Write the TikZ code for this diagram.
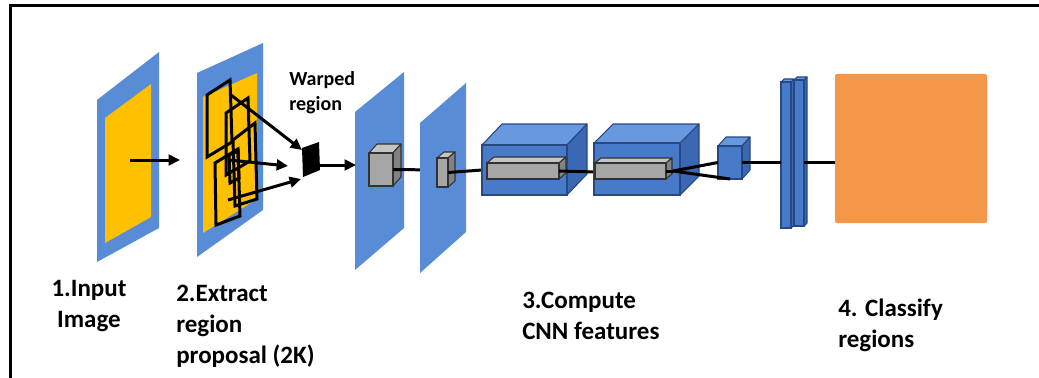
\documentclass[tikz,border=0pt]{standalone}
\usepackage{fontspec}
\setmainfont{Carlito}
\usetikzlibrary{arrows.meta}

% colour sets
\definecolor{panelblue}{RGB}{88,140,214}
\definecolor{imgyellow}{RGB}{255,192,0}
\definecolor{clsorange}{RGB}{245,151,72}
\definecolor{bluefront}{RGB}{72,122,202}
\definecolor{bluetop}{RGB}{104,152,222}
\definecolor{blueside}{RGB}{58,104,180}
\definecolor{blueedge}{RGB}{40,72,130}
\definecolor{greyfront}{RGB}{166,166,166}
\definecolor{greytop}{RGB}{196,196,196}
\definecolor{greyside}{RGB}{130,130,130}
\definecolor{greyedge}{RGB}{50,50,50}

% cuboid: #1 name, #2 x, #3 y (front top-left), #4 width, #5 height,
% #6 depth right, #7 depth up, #8 colour set
\newcommand\drawcuboid[8]{%
  \filldraw[draw=#8edge, line width=0.8pt, line join=round, fill=#8top]
    (#2,#3) -- ++(#6,-#7) -- ++(#4,0) -- ++(-#6,#7) -- cycle;
  \filldraw[draw=#8edge, line width=0.8pt, line join=round, fill=#8side]
    (#2+#4,#3) -- ++(#6,-#7) -- ++(0,#5) -- ++(-#6,#7) -- cycle;
  \filldraw[draw=#8edge, line width=0.8pt, fill=#8front]
    (#2,#3) rectangle ++(#4,#5);
  \coordinate (#1-w) at (#2,#3+#5/2);
  \coordinate (#1-e) at (#2+#4,#3+#5/2);
  \coordinate (#1-s) at (#2+#4/2,#3+#5);
}

\tikzset{
  link/.style={line width=2.25pt, black},
  arr/.style={line width=2.25pt, black, -{Triangle[length=8.5pt,width=8pt]}},
  propbox/.style={line width=2.25pt, black},
  lbl/.style={font=\bfseries\fontsize{18.75}{23.25}\selectfont, inner sep=0pt, align=left, anchor=north west},
  smalllbl/.style={font=\bfseries\fontsize{15}{18.75}\selectfont, inner sep=0pt, align=left, anchor=north west},
}

\begin{document}
\begin{tikzpicture}[x=0.75pt,y=-0.75pt]
\useasboundingbox (0,0) rectangle (1039,378);
\fill[white] (0,0) rectangle (1039,378);

% frame
\draw[line width=2.25pt] (10,378) -- (10,6) -- (1039,6);

% 1. input image
\fill[panelblue] (97,100) -- (159,52) -- (159,228) -- (97,262) -- cycle;
\fill[imgyellow] (105,118) -- (151,84) -- (151,217) -- (105,243) -- cycle;
\coordinate (in-c) at (130,160);
\coordinate (prop-w) at (180,160);
\draw[arr] (in-c) -- (prop-w);

% 2. region proposals
\fill[panelblue] (197,73) -- (263,43) -- (263,210) -- (197,257) -- cycle;
\fill[imgyellow] (203,97) -- (257,73) -- (257,199) -- (203,233) -- cycle;
\draw[propbox] (207,95) -- (230,80) -- (232,142) -- (207,157) -- cycle;
\draw[propbox] (226,113) -- (248,98) -- (250,161) -- (226,175) -- cycle;
\draw[propbox] (233,140) -- (255,123) -- (257,199) -- (235,206) -- cycle;
\draw[propbox] (215,163) -- (238,149) -- (240,216) -- (216,225) -- cycle;
\draw[propbox] (229,155) -- (238,151) -- (239,178) -- (230,183) -- cycle;
\coordinate (p1) at (231,95);
\coordinate (p2) at (229,160);
\coordinate (p3) at (228,200);

% warped region
\fill[black] (302,148) -- (319,142) -- (320,170) -- (303,177) -- cycle;
\coordinate (warp-nw) at (302,150);
\coordinate (warp-w) at (288,166);
\coordinate (warp-sw) at (301,179);
\coordinate (warp-e) at (319,165);
\draw[arr] (p1) -- (warp-nw);
\draw[arr] (p2) -- (warp-w);
\draw[arr] (p3) -- (warp-sw);
\node[smalllbl] (warplbl) at (289,71) {Warped\\region};

% 3. CNN features
\fill[panelblue] (355,112) -- (404,72) -- (404,228) -- (355,270) -- cycle;
\coordinate (conv1-w) at (356,165);
\draw[arr] (warp-e) -- (conv1-w);
\drawcuboid{c1}{369}{153}{24}{33}{8}{9}{grey}
\coordinate (c2in) at (437,170);
\draw[link] (c1-e) -- (c2in);

\fill[panelblue] (420,123) -- (466,83) -- (466,232) -- (420,273) -- cycle;
\drawcuboid{c2}{437}{158}{11}{29}{7}{6}{grey}
\coordinate (b1in) at (482,170);
\draw[link] (c2-e) -- (b1in);

\drawcuboid{b1}{482}{145}{85}{50}{20}{21}{blue}
\drawcuboid{r1}{487}{163}{72}{16}{7}{6}{grey}
\coordinate (r2in) at (595,172);
\draw[link] (r1-e) -- (r2in);

\drawcuboid{b2}{594}{143}{86}{52}{19}{19}{blue}
\drawcuboid{r2}{595}{163}{71}{16}{6}{5}{grey}

\drawcuboid{c3}{718}{146}{24}{33}{8}{9}{blue}
\coordinate (fork) at (673,171);
\draw[link] (r2-e) -- (fork);
\draw[link] (fork) -- (c3-w);
\draw[link] (fork) -- (c3-s);

% fully connected layers
\drawcuboid{fc1}{781}{82}{10}{146}{3}{3}{blue}
\drawcuboid{fc2}{794}{80}{10}{146}{3}{3}{blue}
\draw[link] (c3-e) -- (fc1-w |- c3-e);

% 4. classification
\fill[clsorange, rounded corners=1.5pt] (835,74) rectangle (987,223);
\coordinate (cls-w) at (835,162);
\draw[link] (fc2-e |- cls-w) -- (cls-w);

% stage labels
\node[lbl, align=center, anchor=north] (l1) at (89,280) {1.Input\\Image};
\node[lbl] (l2) at (176,285) {2.Extract\\region\\proposal (2K)};
\node[lbl] (l3) at (522,292) {3.Compute\\CNN features};
\node[lbl] (l4) at (838,299) {4. Classify\\regions};
\end{tikzpicture}
\end{document}
